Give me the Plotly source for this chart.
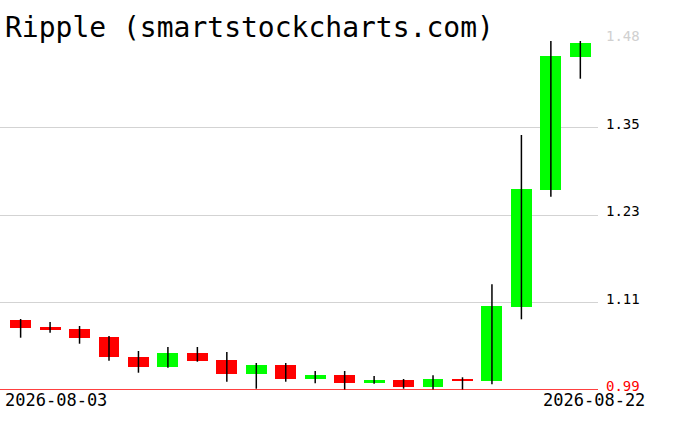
import plotly.graph_objects as go

dates = ["2026-08-03", "2026-08-04", "2026-08-05", "2026-08-06", "2026-08-07",
         "2026-08-08", "2026-08-09", "2026-08-10", "2026-08-11", "2026-08-12",
         "2026-08-13", "2026-08-14", "2026-08-15", "2026-08-16", "2026-08-17",
         "2026-08-18", "2026-08-19", "2026-08-20", "2026-08-21", "2026-08-22"]
opens = [1.088, 1.0782, 1.0754, 1.0642, 1.0362, 1.0222, 1.0418, 1.032, 1.0128, 1.025,
         1.0058, 1.011, 1.0002, 1.004, 0.9946, 1.0054, 1.003, 1.1066, 1.2704, 1.4566]
closes = [1.0772, 1.0744, 1.0632, 1.0366, 1.0226, 1.0418, 1.0306, 1.0128, 1.025, 1.0058,
          1.011, 1.0002, 1.004, 0.9946, 1.0054, 1.003, 1.1076, 1.271, 1.4576, 1.4754]
highs = [1.0894, 1.0852, 1.0796, 1.0656, 1.0446, 1.0502, 1.0502, 1.0432, 1.0278, 1.0278,
         1.0166, 1.0166, 1.0096, 1.0054, 1.0106, 1.0078, 1.138, 1.347, 1.4786, 1.4786]
lows = [1.0632, 1.0702, 1.0548, 1.031, 1.0142, 1.0212, 1.0296, 1.0016, 0.9918, 1.0016,
        0.9994, 0.99, 0.9988, 0.9918, 0.99, 0.99, 0.998, 1.089, 1.2606, 1.4258]
tick_values = [0.99, 1.1125, 1.235, 1.3575, 1.48]
tick_labels = ["0.99", "1.11", "1.23", "1.35", "1.48"]
title_text = "Ripple (smartstockcharts.com)"

GREEN = "#00ff00"
RED = "#ff0000"
MONO = "DejaVu Sans Mono"

idx = list(range(len(dates)))
bases = [min(o, c) for o, c in zip(opens, closes)]
heights = [max(abs(c - o), 0.0012) for o, c in zip(opens, closes)]
colors = [GREEN if c >= o else RED for o, c in zip(opens, closes)]

wx, wy = [], []
for i, h, l in zip(idx, highs, lows):
    wx += [i, i, None]
    wy += [l, h, None]

fig = go.Figure()
fig.add_trace(go.Bar(x=idx, y=heights, base=bases, marker=dict(color=colors, line=dict(width=0)),
                     width=0.71, showlegend=False, hoverinfo="skip"))
fig.add_trace(go.Scatter(x=wx, y=wy, mode="lines", line=dict(color="black", width=1.5),
                         showlegend=False, hoverinfo="skip"))

fig.add_shape(type="line", xref="paper", x0=0, x1=1, yref="y", y0=tick_values[0], y1=tick_values[0],
              line=dict(color=RED, width=1.5))

label_colors = [RED, "black", "black", "black", "#d0d0d0"]
for v, t, col in zip(tick_values, tick_labels, label_colors):
    fig.add_annotation(xref="paper", x=1, yref="y", y=v, text=t, showarrow=False,
                       xanchor="left", yanchor="middle", xshift=6, yshift=4,
                       font=dict(family=MONO, size=14, color=col))

fig.add_annotation(xref="paper", x=0, yref="paper", y=0, text=dates[0], showarrow=False,
                   xanchor="left", yanchor="middle", xshift=3, yshift=-10,
                   font=dict(family=MONO, size=17, color="black"))
fig.add_annotation(xref="paper", x=1, yref="paper", y=0, text=dates[-1], showarrow=False,
                   xanchor="right", yanchor="middle", xshift=49, yshift=-10,
                   font=dict(family=MONO, size=17, color="black"))
fig.add_annotation(xref="paper", x=0, yref="paper", y=1, text=title_text, showarrow=False,
                   xanchor="left", yanchor="middle", xshift=3, yshift=13,
                   font=dict(family=MONO, size=28, color="black"))

fig.update_layout(
    width=676, height=431,
    margin=dict(l=0, r=78, t=40, b=41),
    paper_bgcolor="white", plot_bgcolor="white",
    xaxis=dict(range=[-0.7, 19.6], showgrid=False, zeroline=False, showticklabels=False,
               showline=False, ticks=""),
    yaxis=dict(range=[tick_values[0], tick_values[-1]], tickvals=tick_values, showticklabels=False,
               showgrid=True, gridcolor="#d3d3d3", gridwidth=1, zeroline=False, showline=False,
               ticks=""),
    bargap=0,
)

fig.write_html("out.html", config={"displayModeBar": False},
               post_script="document.body.style.margin='0px';")
